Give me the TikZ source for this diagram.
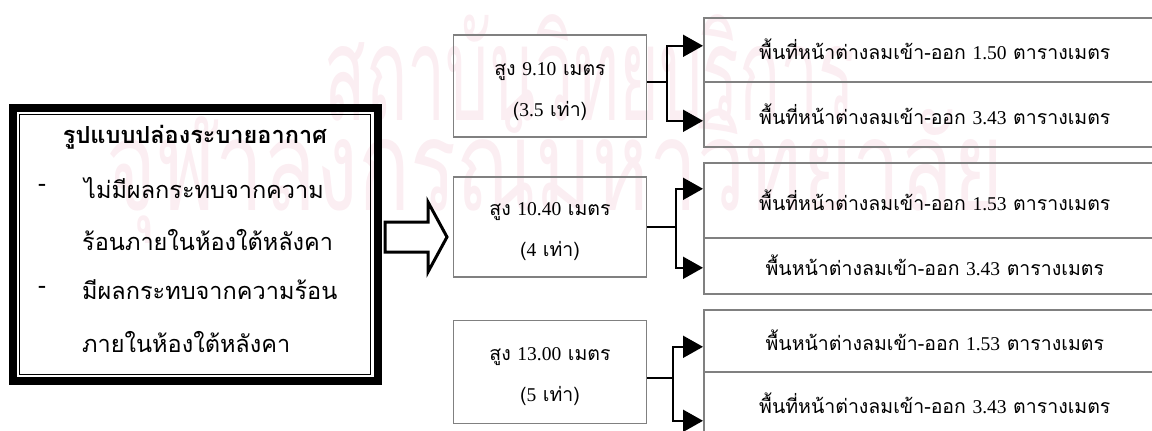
\documentclass[tikz,border=0pt]{standalone}
\usepackage{fontspec}
\setmainfont{Liberation Serif}
\newfontfamily\thaifont[Script=Thai]{Loma}
\usetikzlibrary{arrows.meta}
\newcommand\nm[1]{{\rmfamily #1}}
\definecolor{boxgray}{RGB}{128,128,128}
\definecolor{wm}{RGB}{251,238,242}
\tikzset{
  rbox/.style={draw=boxgray, line width=1.6pt, anchor=north west, minimum width=462pt, inner sep=0pt, font=\thaifont\fontsize{19.5}{22}\selectfont},
  mbox/.style={draw=boxgray, line width=1.6pt, minimum width=193pt, inner sep=0pt},
  mtext/.style={inner sep=0pt, align=center, font=\thaifont\fontsize{19.5}{41}\selectfont},
  conn/.style={line width=1.8pt, black},
  arr/.style={conn, -{Triangle[length=20pt,width=22pt]}},
  ltext/.style={anchor=west, inner sep=0pt, font=\thaifont\fontsize{23.5}{26}\selectfont},
  wmark/.style={text=wm, inner sep=0pt, font=\thaifont\fontsize{110}{110}\selectfont},
}
\begin{document}
\begin{tikzpicture}[x=1pt,y=-1pt]
\useasboundingbox (0,0) rectangle (1152,431);
% watermark
\node[wmark] (wm1) at (590,68) {\scalebox{0.62}[1.2]{สถาบันวิทยบริการ}};
\node[wmark] (wm2) at (555,172) {\scalebox{0.78}[1.15]{จุฬาลงกรณ์มหาวิทยาลัย}};
% left box
\draw[line width=8pt] (13,108) rectangle (378,381);
\draw[line width=1.8pt] (19.5,114.5) rectangle (370.5,374.5);
\node[font=\thaifont\bfseries\fontsize{23.5}{26}\selectfont, inner sep=0pt] (title) at (195,137) {รูปแบบปล่องระบายอากาศ};
\node[ltext] (d1) at (38,188) {-};
\node[ltext] (l1) at (84,188) {ไม่มีผลกระทบจากความ};
\node[ltext] (l2) at (82,240) {ร้อนภายในห้องใต้หลังคา};
\node[ltext] (d2) at (38,290) {-};
\node[ltext] (l3) at (82,290) {มีผลกระทบจากความร้อน};
\node[ltext] (l4) at (82,342) {ภายในห้องใต้หลังคา};
% block arrow
\draw[line width=3pt, fill=white, line join=miter] (385,222) -- (428,222) -- (428,202) -- (447,237) -- (428,272) -- (428,252) -- (385,252) -- cycle;
% middle boxes
\node[mbox, minimum height=102pt] (m1) at (550,86) {};
\node[mtext] (t1) at (550,92) {สูง \nm{9.10} เมตร\\(\nm{3.5} เท่า)};
\node[mbox, minimum height=100pt] (m2) at (550,227) {};
\node[mtext] (t2) at (550,232) {สูง \nm{10.40} เมตร\\(\nm{4} เท่า)};
\node[mbox, minimum height=103pt] (m3) at (550,372) {};
\node[mtext] (t3) at (550,377) {สูง \nm{13.00} เมตร\\(\nm{5} เท่า)};
% right boxes
\node[rbox, minimum height=64pt] (r11) at (703,17) {พื้นที่หน้าต่างลมเข้า-ออก \nm{1.50} ตารางเมตร};
\node[rbox, minimum height=65pt] (r12) at (703,81) {พื้นที่หน้าต่างลมเข้า-ออก \nm{3.43} ตารางเมตร};
\node[rbox, minimum height=75pt] (r21) at (703,162) {พื้นที่หน้าต่างลมเข้า-ออก \nm{1.53} ตารางเมตร};
\node[rbox, minimum height=56pt] (r22) at (703,237) {พื้นหน้าต่างลมเข้า-ออก \nm{3.43} ตารางเมตร};
\node[rbox, minimum height=62pt] (r31) at (703,309) {พื้นหน้าต่างลมเข้า-ออก \nm{1.53} ตารางเมตร};
\node[rbox, minimum height=64pt] (r32) at (703,371) {พื้นที่หน้าต่างลมเข้า-ออก \nm{3.43} ตารางเมตร};
% connectors
\draw[conn] ([yshift=4pt]m1.east) -- ++(20,0) coordinate (j1);
\draw[arr] (j1) |- ([yshift=4pt]r11.west);
\draw[arr] (j1) |- ([yshift=-6.5pt]r12.west);
\draw[conn] (m2.east) -- ++(29,0) coordinate (j2);
\draw[arr] (j2) |- ([yshift=11.5pt]r21.west);
\draw[arr] (j2) |- ([yshift=-2pt]r22.west);
\draw[conn] ([yshift=-6pt]m3.east) -- ++(26,0) coordinate (j3);
\draw[arr] (j3) |- ([yshift=-6pt]r31.west);
\draw[arr] (j3) |- ([yshift=-17pt]r32.west);
\end{tikzpicture}
\end{document}
